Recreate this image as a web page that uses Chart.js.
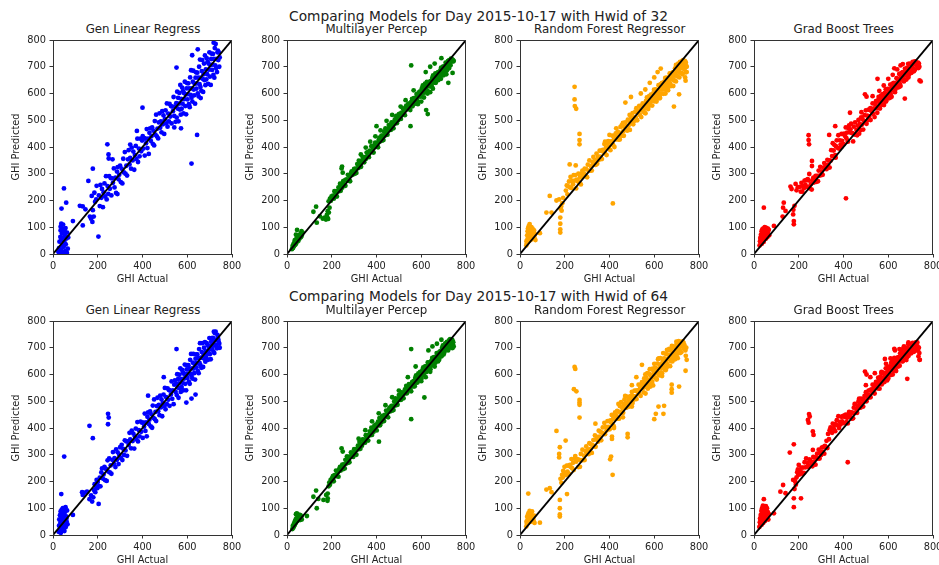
<!DOCTYPE html>
<html>
<head>
<meta charset="utf-8">
<script src="https://cdn.jsdelivr.net/npm/chart.js@4.4.0/dist/chart.umd.min.js"></script>
<style>
  html, body { margin: 0; padding: 0; background: #fff; overflow: hidden; }
  body { width: 939px; height: 565px; position: relative; font-family: 'DejaVu Sans', sans-serif; color: #222; }
  canvas { position: absolute; }
  .sup { position: absolute; font-size: 13.75px; line-height: 1; white-space: nowrap; transform: translateX(-50%); }
  .sub { position: absolute; font-size: 11.8px; line-height: 1; text-align: center; white-space: nowrap; }
</style>
</head>
<body>
<script>
const day = '2015-10-17';
const hwids = [32, 64];
const models = ['Gen Linear Regress', 'Multilayer Percep', 'Random Forest Regressor', 'Grad Boost Trees'];
const diagonal = [0, 800];

// [GHI actual, GHI predicted]
const glr32 = [[24,8],[27,22],[29,46],[31,3],[33,64],[34,88],[36,17],[37,52],[39,0],[40,78],[41,33],[43,95],[44,6],[46,61],[47,0],[48,27],[49,84],[51,44],[52,0],[53,70],[55,12],[56,97],[57,36],[59,0],[60,58],[62,5],[63,80],[66,20],[68,62],[49,245],[38,170],[59,192],[37,113],[52,86],[45,110],[34,102],
  [89,123],[120,180],[133,178],[145,167],[133,107],[158,273],[165,140],[173,217],[178,164],[178,319],[170,132],[185,229],[188,195],[193,204],[195,255],[203,65],[182,140],[176,120],
  [205,219],[209,179],[212,258],[216,210],[219,243],[223,175],[226,230],[230,264],[233,215],[237,291],[240,204],[244,254],[247,225],[251,291],[254,244],[258,284],[261,219],[265,283],[268,266],[272,320],[275,249],[279,285],[282,228],[286,308],[289,325],[293,279],[296,296],[300,330],[303,269],[307,319],[310,264],[314,356],[317,305],[321,381],[324,300],[328,330],[331,293],[335,354],[338,388],[342,335],
  [345,359],[349,319],[352,398],[356,350],[359,383],[363,315],[366,370],[370,404],[373,355],[377,431],[380,344],[384,394],[387,365],[391,431],[394,384],[398,424],
  [401,441],[404,394],[407,433],[410,368],[413,431],[416,414],[419,467],[422,396],[425,431],[428,374],[431,453],[434,470],[437,423],[440,440],[443,473],[446,412],[449,461],[452,406],[455,497],[458,446],[461,521],[464,440],[467,469],[470,432],[473,492],[476,526],[479,472],[482,496],[485,455],[488,534],[491,485],[494,518],[497,449],[500,504],[503,537],[506,488],[509,563],[512,476],[515,525],[518,496],[521,561],[524,514],[527,553],[530,488],[533,551],[536,534],[539,587],[542,516],[545,551],[548,494],
  [551,564],[553,510],[555,607],[557,544],[559,584],[561,496],[563,562],[565,602],[567,540],[569,632],[571,521],[573,580],[575,543],[577,622],[579,562],[581,609],[583,526],[585,602],[587,579],[589,644],[591,553],[593,596],[595,522],[597,619],[599,639],[601,578],[603,598],[605,638],[607,560],[609,619],[611,549],[613,660],[615,595],[617,687],[619,584],[621,619],[623,570],[625,644],[627,685],[629,615],
  [631,593],[633,636],[635,562],[637,659],[639,679],[641,618],[643,638],[645,678],[647,600],[649,659],[651,589],[653,700],[655,635],[657,727],[659,624],[661,659],[663,610],[665,684],[667,725],[669,655],
  [671,606],[673,672],[675,712],[677,650],[679,742],[681,631],[683,690],[685,653],[687,732],[689,672],[691,719],[693,636],[695,712],[697,689],[699,754],[701,663],[703,706],[705,632],[707,729],[709,749],[711,688],[713,708],[715,748],[717,670],[719,729],[721,659],[723,770],[725,705],[727,785],[729,694],[731,729],[733,680],[735,754],[737,760],[739,725],[741,754],[743,700],[745,735],
  [243,410],[248,372],[249,357],[266,354],[288,224],[400,547],[345,409],[375,460],[552,697],[542,473],[572,470],[619,338],[622,743],[644,445],[647,765],[718,790],[608,555],[660,583]];

const mlp32 = [[22,18],[25,30],[27,22],[29,37],[31,29],[33,44],[34,33],[36,41],[38,49],[39,36],[41,55],[42,44],[44,51],[45,62],[47,47],[48,58],[50,66],[51,50],[53,61],[55,71],[56,58],[58,66],[60,74],[62,63],[64,77],[66,69],[45,90],[65,85],[70,80],[40,72],[35,52],
  [118,158],[130,177],[133,117],[147,141],[160,132],[168,136],[174,129],[178,146],[181,135],[184,131],[187,155],[190,173],[186,197],[192,207],[196,199],[199,215],[182,160],
  [205,218],[209,207],[212,235],[216,230],[219,235],[223,215],[226,235],[230,249],[233,235],[237,263],[240,236],[244,255],[247,248],[251,272],[254,259],[258,275],[261,255],[265,279],[268,275],[272,296],[275,274],[279,289],[282,272],[286,301],[289,309],[293,296],[296,304],[300,318],[303,300],[307,319],[310,303],[314,336],[317,321],[321,349],[324,324],[328,337],[331,326],[335,349],[338,363],[342,348],
  [345,343],[349,362],[352,355],[356,379],[359,366],[363,382],[366,362],[370,386],[373,382],[377,403],[380,381],[384,396],[387,379],[391,408],[394,416],[398,403],
  [401,402],[404,416],[407,399],[410,427],[413,435],[416,421],[419,429],[422,442],[425,424],[428,442],[431,426],[434,458],[437,443],[440,470],[443,445],[446,457],[449,446],[452,468],[455,482],[458,466],[461,476],[464,464],[467,492],[470,478],[473,491],[476,470],[479,490],[482,503],[485,489],[488,516],[491,489],[494,507],[497,500],[500,523],[503,510],[506,525],[509,505],[512,528],[515,524],[518,544],[521,522],[524,536],[527,519],[530,547],[533,555],[536,541],[539,549],[542,562],[545,544],[548,562],
  [551,538],[553,557],[555,569],[557,554],[559,580],[561,552],[563,569],[565,561],[567,583],[569,569],[571,583],[573,562],[575,584],[577,579],[579,598],[581,575],[583,588],[585,570],[587,597],[589,604],[591,589],[593,596],[595,608],[597,589],[599,606],[601,589],[603,620],[605,604],[607,630],[609,604],[611,615],[613,603],[615,624],[617,637],[619,620],[621,629],[623,616],[625,643],[627,628],[629,640],
  [631,608],[633,635],[635,642],[637,627],[639,634],[641,646],[643,627],[645,644],[647,627],[649,658],[651,642],[653,668],[655,642],[657,653],[659,641],[661,662],[663,675],[665,658],[667,667],[669,654],
  [671,666],[673,653],[675,680],[677,665],[679,677],[681,655],[683,674],[685,686],[687,671],[689,697],[691,669],[693,686],[695,678],[697,700],[699,686],[701,700],[703,679],[705,701],[707,696],[709,715],[711,692],[713,705],[715,687],[717,714],[719,721],[721,706],[723,713],[725,725],[727,706],[729,723],[731,706],[733,730],[735,721],[737,728],[739,721],[741,726],[743,720],[745,722],
  [244,320],[246,327],[249,304],[400,478],[552,478],[555,705],[622,538],[629,523],[721,640],[740,677],[712,672],
  [330,372],[352,398],[372,420],[395,440],[418,462],[445,498],[470,520],[508,551],[530,575],[566,612],[585,560],[600,570],[612,585],[628,600],[640,605],[652,618],[665,640],[676,650],[688,655],[700,668],[712,690],[725,695],[733,728],[640,700],[660,712],[620,680],[690,732]];

const rfr32 = [[28,32],[29,48],[31,40],[32,70],[33,55],[34,85],[35,44],[36,96],[37,62],[38,78],[39,104],[40,50],[41,88],[42,67],[43,112],[44,58],[45,82],[46,97],[47,70],[48,52],[49,90],[50,78],[51,100],[52,63],[53,86],[55,72],[56,95],[57,58],[59,80],[61,66],[63,88],[65,60],[67,74],[69,52],
  [89,78],[118,155],[133,217],[141,155],[163,200],[175,204],[180,136],[180,113],[180,92],[180,80],[181,170],[184,178],[186,162],[189,190],[193,210],
  [205,237],[209,256],[212,223],[216,253],[219,271],[223,249],[226,288],[230,247],[233,273],[237,261],[240,295],[244,274],[247,295],[251,245],[254,278],[258,272],[261,300],[265,267],[268,286],[272,260],[275,301],[279,312],[282,290],[286,301],[289,319],[293,291],[296,317],[300,287],[303,334],[307,311],[310,350],[314,312],[317,328],[321,312],[324,344],[328,363],[331,337],[335,352],[338,333],[342,375],
  [345,337],[349,364],[352,351],[356,386],[359,364],[363,386],[366,355],[370,389],[373,382],[377,411],[380,377],[384,397],[387,370],[391,412],[394,422],[398,401],
  [401,419],[404,388],[407,421],[410,414],[413,442],[416,408],[419,427],[422,400],[425,441],[428,451],[431,429],[434,439],[437,457],[440,428],[443,454],[446,428],[449,475],[452,443],[455,482],[458,443],[461,459],[464,442],[467,474],[470,492],[473,466],[476,480],[479,461],[482,502],[485,479],[488,497],[491,464],[494,493],[497,511],[500,488],[503,527],[506,485],[509,511],[512,498],[515,532],[518,510],[521,531],[524,500],[527,533],[530,526],[533,554],[536,520],[539,539],[542,512],[545,553],[548,563],
  [551,532],[553,541],[555,558],[557,528],[559,553],[561,526],[563,572],[565,547],[567,585],[569,545],[571,560],[573,542],[575,573],[577,590],[579,563],[581,576],[583,556],[585,596],[587,572],[589,589],[591,555],[593,583],[595,600],[597,576],[599,614],[601,571],[603,596],[605,582],[607,615],[609,592],[611,612],[613,580],[615,612],[617,604],[619,631],[621,596],[623,614],[625,586],[627,626],[629,635],
  [631,620],[633,600],[635,640],[637,616],[639,633],[641,599],[643,627],[645,644],[647,620],[649,658],[651,615],[653,640],[655,626],[657,659],[659,636],[661,656],[663,624],[665,656],[667,648],[669,675],
  [671,638],[673,656],[675,628],[677,668],[679,677],[681,654],[683,663],[685,680],[687,650],[689,675],[691,648],[693,694],[695,669],[697,707],[699,667],[701,682],[703,664],[705,695],[707,712],[709,685],[711,698],[713,678],[715,718],[717,694],[719,711],[721,677],[723,705],[725,722],[727,698],[729,725],[731,693],[733,718],[735,704],[737,722],[739,714],[741,716],[743,702],[745,680],
  [244,625],[244,578],[245,553],[251,543],[249,331],[222,335],[266,449],[266,426],[266,410],[415,189],[471,566],[496,587],[629,693],[688,551],[711,597],[740,648],[740,679],[738,660],
  [610,570],[625,582],[650,600],[662,612],[685,628],[697,645],[712,660],[726,672],[735,690],[745,700],[580,640],[600,660],[615,680],[560,615],[540,600],[380,420],[400,445],[430,470],[460,490],[490,520],[520,545]];

const gbt32 = [[25,32],[27,48],[28,60],[30,41],[31,72],[33,55],[34,85],[35,38],[36,66],[37,92],[38,50],[40,78],[41,60],[42,96],[43,45],[44,173],[45,70],[46,88],[47,55],[48,100],[49,75],[50,62],[51,90],[53,80],[54,58],[55,98],[57,72],[58,86],[60,64],[62,95],[64,75],[66,90],[68,70],
  [89,105],[128,140],[130,173],[133,192],[141,161],[175,148],[178,123],[178,111],[176,165],[181,180],[163,252],[168,243],[186,262],[190,238],[196,250],
  [205,251],[209,233],[212,266],[216,233],[219,255],[223,246],[226,274],[230,258],[233,276],[237,251],[240,280],[244,275],[247,299],[251,245],[254,261],[258,241],[261,275],[265,285],[268,267],[272,277],[275,292],[279,270],[282,292],[286,272],[289,312],[293,293],[296,326],[300,295],[303,309],[307,296],[310,323],[314,340],[317,319],[321,332],[324,317],[328,352],[331,334],[335,350],[338,323],[342,349],
  [345,388],[349,366],[352,414],[356,387],[359,408],[363,370],[366,403],[370,425],[373,397],[377,444],[380,394],[384,425],[387,409],[391,449],[394,423],[398,448],
  [401,411],[404,450],[407,441],[410,473],[413,433],[416,454],[419,422],[422,470],[425,481],[428,455],[431,466],[434,487],[437,452],[440,452],[443,421],[446,476],[449,447],[452,492],[455,446],[458,464],[461,444],[464,480],[467,501],[470,471],[473,486],[476,463],[479,511],[482,483],[485,504],[488,465],[491,498],[494,519],[497,491],[500,537],[503,487],[506,517],[509,501],[512,540],[515,514],[518,538],[521,501],[524,540],[527,531],[530,563],[533,523],[536,544],[539,512],[542,560],[545,571],[548,545],
  [551,528],[553,574],[555,549],[557,587],[559,547],[561,562],[563,544],[565,575],[567,592],[569,565],[571,578],[573,558],[575,598],[577,574],[579,591],[581,557],[583,585],[585,602],[587,578],[589,616],[591,573],[593,598],[595,584],[597,617],[599,594],[601,614],[603,582],[605,614],[607,606],[609,633],[611,598],[613,616],[615,588],[617,628],[619,637],[621,614],[623,623],[625,640],[627,610],[629,635],
  [631,613],[633,638],[635,624],[637,657],[639,634],[641,654],[643,622],[645,654],[647,646],[649,673],[651,638],[653,656],[655,628],[657,668],[659,677],[661,654],[663,663],[665,680],[667,650],[669,675],
  [671,673],[673,653],[675,693],[677,669],[679,686],[681,652],[683,680],[685,697],[687,673],[689,711],[691,668],[693,693],[695,679],[697,712],[699,689],[701,709],[703,677],[705,709],[707,701],[709,718],[711,693],[713,711],[715,683],[717,716],[719,720],[721,709],[723,718],[725,714],[727,705],[729,712],[731,703],[733,715],[735,706],[737,712],[739,700],
  [244,444],[244,426],[246,410],[259,348],[259,329],[336,445],[363,478],[411,208],[429,528],[496,597],[503,588],[552,655],[627,694],[674,581],[740,649],
  [560,610],[580,630],[600,655],[620,670],[640,690],[655,705],[665,710],[590,570],[610,585],[630,605],[650,625],[670,645],[690,660],[705,680],[720,690],[735,695],[745,645],[530,590],[520,545],[480,530],[470,450],[365,360],[390,400],[420,420]];

const glr64 = [[25,12],[27,35],[28,58],[30,20],[31,74],[33,45],[34,88],[35,8],[36,62],[38,30],[39,95],[40,50],[41,18],[42,78],[43,40],[44,100],[45,25],[46,68],[47,55],[48,90],[49,35],[50,72],[51,15],[52,58],[53,85],[55,42],[56,104],[57,30],[59,70],[61,50],[63,92],[65,40],[50,293],[37,153],[89,75],[60,62],
  [130,160],[133,150],[140,158],[152,162],[163,134],[170,148],[175,125],[180,141],[183,168],[186,190],[189,160],[192,182],[195,206],[198,175],[200,198],[204,116],
  [205,183],[209,214],[212,182],[216,234],[219,249],[223,211],[226,226],[230,255],[233,205],[237,247],[240,202],[244,279],[247,237],[251,286],[254,234],[258,260],[261,229],[265,281],[268,310],[272,266],[275,287],[279,254],[282,320],[286,281],[289,309],[293,265],[296,299],[300,328],[303,288],[307,337],[310,280],[314,322],[317,299],[321,354],[324,316],[328,350],[331,296],[335,350],[338,336],[342,382],
  [345,357],[349,324],[352,390],[356,351],[359,379],[363,323],[366,369],[370,398],[373,358],[377,422],[380,350],[384,392],[387,369],[391,424],[394,386],[398,420],
  [401,363],[404,420],[407,405],[410,454],[413,389],[416,421],[419,369],[422,442],[425,458],[428,415],[431,431],[434,462],[437,406],[440,451],[443,401],[446,484],[449,438],[452,507],[455,433],[458,460],[461,426],[464,482],[467,513],[470,463],[473,486],[476,448],[479,521],[482,477],[485,507],[488,444],[491,494],[494,525],[497,481],[500,550],[503,470],[506,515],[509,489],[512,548],[515,506],[518,542],[521,483],[524,540],[527,525],[530,574],[533,509],[536,541],[539,489],[542,562],[545,578],[548,535],
  [551,565],[553,523],[555,601],[557,551],[559,583],[561,513],[563,567],[565,599],[567,549],[569,623],[571,535],[573,583],[575,553],[577,617],[579,569],[581,607],[583,541],[585,603],[587,585],[589,637],[591,565],[593,599],[595,541],[597,619],[599,635],[601,587],[603,603],[605,635],[607,573],[609,621],[611,565],[613,655],[615,603],[617,677],[619,595],[621,623],[623,585],[625,644],[627,677],[629,622],
  [631,605],[633,639],[635,581],[637,659],[639,675],[641,627],[643,643],[645,675],[647,613],[649,661],[651,605],[653,695],[655,643],[657,717],[659,635],[661,663],[663,625],[665,684],[667,717],[669,662],
  [671,628],[673,673],[675,700],[677,659],[679,721],[681,648],[683,688],[685,664],[687,717],[689,678],[691,710],[693,655],[695,707],[697,692],[699,736],[701,676],[703,705],[705,657],[707,722],[709,736],[711,696],[713,710],[715,737],[717,686],[719,726],[721,680],[723,755],[725,712],[727,760],[729,706],[731,730],[733,698],[735,748],[737,740],[739,730],[741,720],[743,715],[745,700],
  [163,408],[178,362],[246,453],[249,439],[246,414],[425,521],[495,590],[552,695],[596,495],[619,510],[637,525],[719,760]];

const mlp64 = [[24,22],[26,34],[28,27],[30,40],[31,32],[33,46],[35,38],[36,52],[38,44],[39,58],[41,48],[42,62],[44,81],[45,52],[47,66],[48,58],[50,72],[51,60],[53,76],[55,62],[56,70],[58,56],[60,74],[62,64],[64,70],[66,58],[89,71],[40,78],[46,76],
  [118,143],[130,166],[133,100],[140,135],[163,131],[175,150],[182,137],[182,155],[181,128],[186,182],[189,196],[192,188],[195,206],[198,200],[201,212],
  [205,220],[209,201],[212,224],[216,221],[219,241],[223,220],[226,234],[230,218],[233,246],[237,255],[240,241],[244,250],[247,263],[251,246],[254,264],[258,249],[261,281],[265,267],[268,294],[272,270],[275,282],[279,272],[282,294],[286,309],[289,293],[293,304],[296,292],[300,321],[303,307],[307,321],[310,300],[314,321],[317,334],[321,321],[324,348],[328,322],[331,340],[335,334],[338,357],[342,345],
  [345,356],[349,345],[352,373],[356,360],[359,373],[363,353],[366,373],[370,387],[373,373],[377,401],[380,374],[384,393],[387,386],[391,410],[394,397],[398,413],
  [401,391],[404,411],[407,424],[410,410],[413,437],[416,410],[419,428],[422,421],[425,444],[428,431],[431,446],[434,426],[437,449],[440,445],[443,465],[446,443],[449,457],[452,440],[455,468],[458,476],[461,462],[464,470],[467,483],[470,465],[473,483],[476,467],[479,499],[482,484],[485,511],[488,486],[491,498],[494,487],[497,509],[500,523],[503,507],[506,517],[509,505],[512,533],[515,519],[518,532],[521,511],[524,531],[527,544],[530,530],[533,557],[536,530],[539,548],[542,541],[545,564],[548,551],
  [551,542],[553,555],[555,537],[557,564],[559,571],[561,556],[563,563],[565,575],[567,556],[569,573],[571,556],[573,587],[575,571],[577,597],[579,571],[581,582],[583,570],[585,591],[587,604],[589,587],[591,596],[593,583],[595,610],[597,595],[599,607],[601,585],[603,604],[605,616],[607,601],[609,627],[611,599],[613,616],[615,608],[617,630],[619,616],[621,630],[623,609],[625,631],[627,626],[629,645],
  [631,631],[633,618],[635,645],[637,630],[639,642],[641,620],[643,639],[645,651],[647,636],[649,662],[651,634],[653,651],[655,643],[657,665],[659,651],[661,665],[663,644],[665,666],[667,661],[669,680],
  [671,654],[673,667],[675,649],[677,676],[679,683],[681,668],[683,675],[685,687],[687,668],[689,685],[691,668],[693,699],[695,683],[697,709],[699,683],[701,694],[703,682],[705,703],[707,716],[709,699],[711,708],[713,695],[715,722],[717,707],[719,719],[721,697],[723,716],[725,728],[727,713],[729,732],[731,711],[733,728],[735,720],[737,730],[739,728],[741,712],[743,721],[745,705],
  [244,324],[249,312],[411,349],[555,695],[555,433],[614,514],[632,690],[740,699],
  [320,360],[350,392],[380,425],[410,455],[440,485],[470,515],[500,540],[540,590],[575,630],[600,575],[620,590],[640,610],[660,630],[680,655],[700,675],[720,690],[735,700],[650,705],[670,715],[690,730]];

const rfr64 = [[28,32],[29,50],[31,42],[32,68],[33,55],[35,75],[36,45],[37,155],[38,82],[39,60],[40,48],[41,78],[42,65],[43,90],[44,52],[45,72],[46,85],[47,58],[48,68],[49,80],[50,50],[51,74],[52,62],[54,88],[55,55],[57,70],[59,62],[61,52],[63,72],[65,45],[89,46],
  [118,170],[133,175],[141,160],[163,389],[175,303],[175,290],[178,328],[178,131],[178,100],[178,77],[178,69],[181,210],[185,195],[188,225],[191,215],[193,240],[196,228],[199,255],[201,232],[204,353],[210,153],
  [205,224],[209,259],[212,237],[216,259],[219,228],[223,262],[226,255],[230,284],[233,250],[237,270],[240,243],[244,285],[247,295],[251,274],[254,284],[258,283],[261,254],[265,281],[268,255],[272,303],[275,279],[279,319],[282,280],[286,297],[289,280],[293,313],[296,331],[300,306],[303,320],[307,302],[310,343],[314,321],[317,339],[321,307],[324,336],[328,355],[331,332],[335,372],[338,330],[342,357],
  [345,367],[349,349],[352,390],[356,368],[359,386],[363,354],[366,383],[370,402],[373,379],[377,419],[380,377],[384,404],[387,391],[391,426],[394,404],[398,426],
  [401,395],[404,428],[407,421],[410,449],[413,415],[416,434],[419,407],[422,448],[425,458],[428,436],[431,446],[434,464],[437,435],[440,461],[443,435],[446,482],[449,458],[452,497],[455,458],[458,474],[461,457],[464,489],[467,507],[470,481],[473,495],[476,476],[479,517],[482,487],[485,505],[488,480],[491,501],[494,519],[497,504],[500,535],[503,493],[506,519],[509,506],[512,540],[515,518],[518,539],[521,508],[524,541],[527,534],[530,562],[533,528],[536,547],[539,520],[542,561],[545,571],[548,549],
  [551,561],[553,533],[555,585],[557,553],[559,575],[561,529],[563,565],[565,587],[567,555],[569,605],[571,547],[573,579],[575,561],[577,603],[579,573],[581,599],[583,555],[585,597],[587,585],[589,621],[591,573],[593,597],[595,559],[597,611],[599,623],[601,591],[603,603],[605,625],[607,585],[609,617],[611,581],[613,641],[615,607],[617,657],[619,603],[621,623],[623,597],[625,638],[627,661],[629,624],
  [631,608],[633,632],[635,594],[637,646],[639,658],[641,626],[643,638],[645,660],[647,620],[649,652],[651,616],[653,676],[655,642],[657,692],[659,638],[661,658],[663,632],[665,673],[667,696],[669,659],
  [671,631],[673,667],[675,689],[677,657],[679,707],[681,649],[683,681],[685,663],[687,705],[689,675],[691,701],[693,657],[695,699],[697,687],[699,723],[701,675],[703,699],[705,661],[707,713],[709,725],[711,693],[713,705],[715,722],[717,687],[719,719],[721,683],[723,720],[725,709],[727,724],[729,705],[731,718],[733,699],[735,710],[737,700],[739,690],[741,670],[743,700],[745,655],
  [241,545],[244,628],[247,621],[252,537],[266,505],[266,495],[266,487],[266,439],[337,416],[403,283],[407,293],[411,368],[411,359],[414,225],[481,378],[481,365],[545,636],[600,433],[607,453],[619,480],[641,453],[644,483],[678,562],[678,545],[678,532],[711,555],[740,614],
  [560,600],[580,620],[600,640],[620,660],[640,680],[660,690],[680,700],[700,715],[585,560],[610,585],[635,605],[655,625],[675,650],[695,665],[715,680],[730,700],[520,590],[500,560],[470,520],[440,490],[420,400],[460,440],[500,480]];

const gbt64 = [[24,30],[26,48],[27,62],[29,40],[30,75],[32,55],[33,90],[34,38],[35,68],[36,100],[37,50],[38,82],[39,62],[40,110],[41,45],[42,72],[43,95],[44,134],[45,58],[46,85],[47,70],[48,105],[49,52],[50,78],[51,92],[52,62],[53,108],[54,75],[56,88],[57,60],[58,100],[60,72],[62,85],[64,58],[66,78],[89,81],
  [118,162],[130,187],[141,156],[160,308],[175,206],[178,339],[178,137],[178,104],[181,172],[184,200],[187,188],[190,215],[193,235],[196,245],[198,225],[200,262],[202,240],[210,137],
  [205,227],[209,237],[212,252],[216,230],[219,252],[223,232],[226,272],[230,253],[233,286],[237,255],[240,269],[244,256],[247,283],[251,280],[254,259],[258,272],[261,257],[265,292],[268,274],[272,290],[275,263],[279,289],[282,304],[286,286],[289,319],[293,286],[296,308],[300,299],[303,327],[307,311],[310,329],[314,304],[317,333],[321,328],[324,352],[328,325],[331,378],[335,358],[338,392],[342,402],
  [345,396],[349,382],[352,416],[356,399],[359,414],[363,388],[366,413],[370,429],[373,410],[377,444],[380,400],[384,423],[387,413],[391,442],[394,425],[398,444],
  [401,418],[404,447],[407,441],[410,450],[413,422],[416,438],[419,417],[422,451],[425,460],[428,442],[431,443],[434,458],[437,435],[440,457],[443,436],[446,476],[449,456],[452,489],[455,457],[458,471],[461,457],[464,484],[467,500],[470,479],[473,491],[476,476],[479,510],[482,492],[485,507],[488,480],[491,505],[494,520],[497,501],[500,534],[503,500],[506,522],[509,512],[512,540],[515,523],[518,541],[521,515],[524,544],[527,538],[530,562],[533,534],[536,550],[539,529],[542,563],[545,572],[548,554],
  [551,568],[553,548],[555,588],[557,564],[559,581],[561,547],[563,575],[565,592],[567,568],[569,606],[571,563],[573,588],[575,574],[577,607],[579,584],[581,604],[583,572],[585,604],[587,596],[589,623],[591,588],[593,606],[595,578],[597,618],[599,627],[601,604],[603,613],[605,630],[607,600],[609,625],[611,598],[613,644],[615,619],[617,657],[619,617],[621,632],[623,614],[625,645],[627,662],[629,635],
  [631,623],[633,641],[635,613],[637,653],[639,662],[641,639],[643,648],[645,665],[647,635],[649,660],[651,633],[653,679],[655,654],[657,692],[659,652],[661,667],[663,649],[665,680],[667,697],[669,670],
  [671,675],[673,655],[675,695],[677,671],[679,688],[681,654],[683,682],[685,699],[687,675],[689,713],[691,670],[693,695],[695,681],[697,714],[699,691],[701,711],[703,679],[705,711],[707,703],[709,718],[711,695],[713,713],[715,685],[717,715],[719,712],[721,711],[723,720],[725,706],[727,707],[729,700],[731,705],[733,690],[735,668],[737,700],[739,680],[741,655],
  [241,430],[244,420],[246,452],[249,443],[263,387],[263,318],[266,374],[419,272],[496,611],[503,600],[585,658],[627,696],[685,584],[740,655],
  [570,610],[590,640],[610,660],[630,690],[650,695],[670,705],[690,720],[600,585],[620,600],[645,630],[665,650],[685,665],[705,690],[725,690],[730,720],[500,560],[520,590],[540,605],[470,510],[450,490]];

const panels = { 32: [glr32, mlp32, rfr32, gbt32], 64: [glr64, mlp64, rfr64, gbt64] };
const colors = ['#0000ff', '#008000', '#ffa500', '#ff0000'];

Chart.defaults.font.family = "'DejaVu Sans', sans-serif";
Chart.defaults.font.size = 9.8;
Chart.defaults.color = '#222';

// matplotlib-style box around the axes
const frame = {
  id: 'frame',
  afterDraw(chart) {
    const a = chart.chartArea, ctx = chart.ctx;
    ctx.save();
    ctx.strokeStyle = '#333';
    ctx.lineWidth = 1;
    ctx.strokeRect(Math.round(a.left) + 0.5, Math.round(a.top) + 0.5,
      Math.round(a.right - a.left) - 1, Math.round(a.bottom - a.top));
    ctx.restore();
  }
};

const axLefts = [53.3, 286.7, 520, 754];
const axTops = [40, 320.6];
const axW = 179.4, axH = 214;
const yAxisW = 42, xAxisH = 31, padTop = 12, padRight = 16;

function axis(label, step, isY) {
  return {
    type: 'linear',
    min: 0,
    max: 800,
    ticks: { stepSize: step, padding: 3.5, maxRotation: 0, autoSkip: false },
    grid: { display: true, drawOnChartArea: false, drawTicks: true, tickLength: 3.5, tickColor: '#333' },
    border: { display: false },
    title: { display: true, text: label, padding: 0, font: { size: 9.8 } },
    afterFit: (scale) => {
      if (isY) scale.width = yAxisW; else scale.height = xAxisH;
    }
  };
}

hwids.forEach((hwid, r) => {
  const sup = document.createElement('div');
  sup.className = 'sup';
  sup.textContent = 'Comparing Models for Day ' + day + ' with Hwid of ' + hwid;
  sup.style.left = '478.5px';
  sup.style.top = (r === 0 ? 9.5 : 290) + 'px';
  document.body.appendChild(sup);

  models.forEach((name, c) => {
    const t = document.createElement('div');
    t.className = 'sub';
    t.textContent = name;
    t.style.left = axLefts[c] + 'px';
    t.style.width = axW + 'px';
    t.style.top = (axTops[r] - 16) + 'px';
    document.body.appendChild(t);

    const cv = document.createElement('canvas');
    const w = Math.round(yAxisW + axW + padRight), h = Math.round(padTop + axH + xAxisH);
    cv.width = w; cv.height = h;
    cv.style.width = w + 'px'; cv.style.height = h + 'px';
    cv.style.left = (axLefts[c] - yAxisW) + 'px';
    cv.style.top = (axTops[r] - padTop) + 'px';
    document.body.appendChild(cv);

    new Chart(cv, {
      type: 'scatter',
      data: {
        datasets: [
          {
            type: 'line',
            data: diagonal.map(v => ({ x: v, y: v })),
            borderColor: '#000',
            borderWidth: 1.8,
            pointRadius: 0,
            order: 0
          },
          {
            data: panels[hwid][c].map(p => ({ x: p[0], y: p[1] })),
            backgroundColor: colors[c],
            borderWidth: 0,
            pointRadius: 2.4,
            order: 1
          }
        ]
      },
      options: {
        responsive: false,
        animation: false,
        devicePixelRatio: 1,
        layout: { padding: { top: padTop, right: padRight, left: 0, bottom: 0 } },
        plugins: { legend: { display: false }, tooltip: { enabled: false } },
        scales: {
          x: axis('GHI Actual', 200, false),
          y: axis('GHI Predicted', 100, true)
        }
      },
      plugins: [frame]
    });
  });
});
</script>
</body>
</html>
